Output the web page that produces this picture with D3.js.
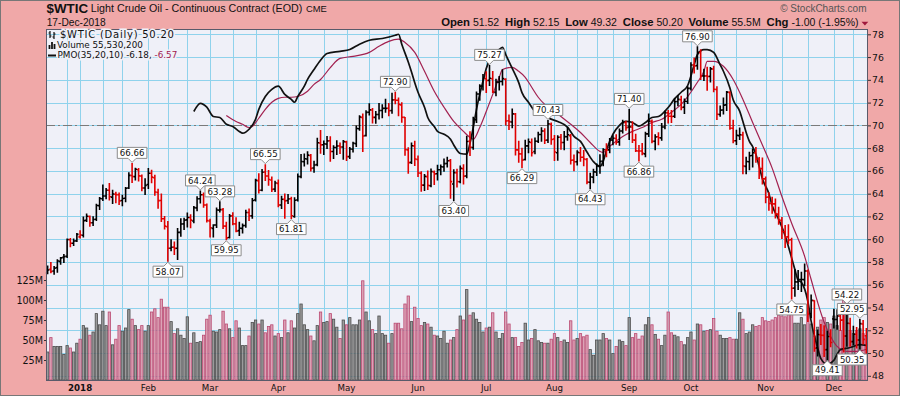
<!DOCTYPE html>
<html>
<head>
<meta charset="utf-8">
<script src="https://cdn.jsdelivr.net/npm/d3@7"></script>
<style>
  body { margin: 0; background: #f0a8a8; }
  svg { display: block; }
  text { font-family: "DejaVu Sans", sans-serif; }
  .hdr { font-family: "Liberation Sans", Arial, sans-serif; white-space: pre; }
</style>
</head>
<body>
<svg id="chart" width="900" height="396"></svg>
<script>
// trading calendar (weekdays minus exchange holidays)
var holidays = ["2017-12-25", "2018-01-01", "2018-01-15", "2018-02-19", "2018-03-30",
  "2018-05-28", "2018-07-04", "2018-09-03", "2018-11-22"];
var firstDay = "2017-12-15";
var lastDay = "2018-12-17";

// daily OHLC, Dec-2017 .. Dec-2018
var opens = [
  57.03,57.35,57.20,57.50,58.05,58.40,58.50,59.95,59.65,59.85,
  60.20,60.35,61.65,62.00,61.45,61.75,62.95,63.55,63.80,64.30,63.70,63.95,63.90,63.40,63.60,64.50,65.60,65.50,66.10,65.55,64.50,
  64.80,65.80,65.40,64.10,63.40,61.80,61.10,59.20,59.30,59.20,60.60,61.35,61.70,61.90,61.60,62.75,63.55,63.90,63.00,
  61.60,60.95,61.25,62.55,62.60,61.15,60.15,62.05,61.35,60.75,60.95,61.20,62.35,62.05,63.45,65.15,64.30,65.90,65.55,65.20,64.40,
  64.90,63.00,63.50,63.40,63.55,62.00,63.45,65.50,66.80,67.05,67.35,66.25,66.55,68.45,68.30,68.35,68.65,67.70,68.05,68.20,68.10,
  68.55,67.25,67.90,68.40,69.70,70.70,69.10,71.15,71.35,70.70,70.95,71.30,71.50,71.50,71.30,72.25,72.20,71.80,70.70,67.85,66.75,68.20,
  67.00,65.80,64.75,65.50,64.70,65.90,65.75,66.10,66.35,66.65,66.90,64.85,65.85,65.05,66.20,65.55,68.60,68.05,70.50,72.75,73.45,
  74.10,73.95,74.10,72.90,73.80,73.85,74.05,70.40,70.30,71.00,67.85,67.50,67.00,68.20,68.50,67.70,68.60,69.20,69.50,68.70,70.10,
  68.80,67.60,68.95,68.50,69.00,69.10,66.95,66.80,67.60,67.20,67.00,65.00,65.45,65.90,66.40,66.85,67.85,67.85,68.70,68.85,68.55,69.50,70.25,
  69.85,69.85,68.70,67.75,67.75,67.50,69.25,70.35,68.60,69.00,68.90,69.85,71.10,70.80,70.80,72.10,72.25,71.60,72.10,
  73.25,75.30,75.25,76.40,74.35,74.35,74.30,74.95,73.15,70.95,71.35,71.80,72.90,69.75,68.65,69.10,69.15,66.40,66.80,67.35,67.60,67.05,66.20,
  65.30,63.70,63.15,63.10,62.20,61.65,60.65,60.20,59.95,55.70,56.25,56.45,56.45,57.20,53.45,54.60,50.45,51.60,51.55,50.30,51.45,
  53.00,52.95,53.25,52.90,51.50,52.60,51.00,51.65,51.15,52.55,51.52
];
var highs = [
  57.65,57.96,57.60,58.20,58.40,58.65,60.01,60.07,60.01,60.51,
  60.74,61.95,62.21,62.04,61.98,63.07,63.67,64.77,64.45,64.89,64.29,64.12,64.05,63.85,64.54,65.83,66.66,66.23,66.20,65.63,65.32,
  66.20,66.06,65.62,64.39,63.96,62.00,61.55,59.95,59.75,60.94,61.80,61.85,62.30,62.15,62.88,63.73,64.24,64.05,63.10,
  61.75,61.28,62.74,63.28,62.70,61.48,62.17,62.33,61.89,61.49,61.34,62.54,62.65,63.57,65.26,65.74,66.13,66.55,66.04,65.47,65.10,
  65.19,63.78,63.98,63.92,63.69,63.64,65.72,67.45,67.49,67.68,67.43,66.85,68.86,69.56,68.63,69.02,68.99,68.21,68.64,68.45,68.66,
  68.60,68.05,68.51,69.94,70.84,71.00,71.28,71.89,71.48,71.22,71.92,71.82,72.30,71.92,72.83,72.90,72.40,71.99,70.70,68.04,68.45,68.60,
  67.31,65.92,65.68,66.00,66.17,66.00,66.50,66.52,67.05,67.21,67.00,66.10,66.15,66.44,66.55,69.05,69.45,70.71,72.93,73.56,74.46,
  74.70,75.27,74.74,74.05,74.29,74.88,74.10,70.91,71.43,71.04,68.60,68.00,68.70,68.80,68.80,68.90,69.40,69.80,69.70,70.43,70.20,
  69.10,69.09,69.20,69.47,69.82,69.20,67.40,67.76,68.06,67.80,67.10,65.80,66.14,66.61,67.41,67.94,68.39,68.84,69.08,69.18,69.69,70.45,70.36,
  71.40,70.31,69.22,68.24,68.41,69.39,71.00,70.48,69.17,69.35,70.17,71.25,71.30,71.30,72.37,72.60,72.55,72.31,73.39,
  75.51,75.91,76.90,76.65,74.92,75.10,75.08,75.20,73.40,71.70,72.40,72.98,72.95,70.45,69.57,69.77,69.40,67.21,67.64,67.93,68.05,67.18,67.13,
  65.46,64.09,63.68,63.54,62.80,61.90,61.20,61.28,60.08,57.34,57.25,57.09,57.83,57.30,55.10,54.60,52.02,52.50,52.40,51.91,52.05,
  53.85,53.80,53.40,53.35,54.22,53.05,52.35,52.25,52.95,52.85,52.15
];
var lows = [
  56.97,57.05,56.92,57.10,57.80,57.95,58.40,59.33,59.45,59.80,
  60.10,60.20,61.55,61.14,61.20,61.65,62.62,63.40,63.55,63.45,63.14,63.20,63.05,62.94,63.30,64.45,64.99,65.21,65.11,64.26,63.92,
  64.45,64.95,63.86,62.71,61.55,60.89,58.07,58.98,58.66,58.21,60.25,60.85,61.08,61.00,61.45,62.49,63.18,62.80,61.51,
  60.19,60.20,61.03,62.40,60.95,59.95,60.10,61.26,60.65,60.33,60.54,61.05,61.65,61.85,63.35,64.06,64.25,65.15,64.74,64.18,64.20,
  62.86,62.69,61.85,63.13,61.81,61.93,63.35,65.40,66.42,66.61,65.99,65.89,66.45,67.55,67.44,67.96,66.85,67.09,67.45,67.53,67.03,
  66.92,67.10,67.66,68.14,69.57,67.71,69.06,70.90,70.20,70.18,70.56,70.66,71.16,70.85,71.06,71.90,70.84,70.27,67.38,65.80,66.65,66.47,
  65.50,64.22,64.27,64.37,64.61,64.80,65.21,65.67,65.97,66.35,63.59,63.40,64.58,64.95,64.86,65.40,67.35,67.90,70.25,72.20,73.10,
  72.88,73.50,72.88,72.60,73.10,73.55,70.05,69.64,69.78,67.40,66.75,66.29,66.95,67.60,67.30,67.50,68.50,68.60,68.40,68.50,68.35,
  66.92,66.94,67.90,67.85,68.70,66.61,66.02,66.52,66.85,66.45,64.87,64.43,64.96,65.60,65.80,66.45,67.24,67.60,68.30,68.35,68.25,69.34,69.58,
  68.75,68.50,67.70,66.86,67.42,67.24,69.03,68.47,67.85,68.30,68.70,69.70,70.20,70.25,70.70,71.73,71.38,71.04,71.91,
  73.10,74.60,74.92,74.03,73.95,73.08,73.81,72.96,70.52,70.80,71.00,71.30,69.65,68.47,68.32,68.75,65.74,65.76,66.10,66.34,66.75,65.33,64.84,
  63.20,62.55,62.28,61.87,61.31,60.07,59.26,59.61,54.75,54.99,55.59,55.41,55.91,52.77,53.10,50.15,49.73,50.76,49.70,49.41,50.55,
  52.20,52.10,52.00,50.08,50.60,50.60,50.70,50.45,50.35,50.80,49.32
];
var closes = [
  57.30,57.16,57.46,58.09,58.36,58.47,59.97,59.64,59.84,60.42,
  60.37,61.63,62.01,61.44,61.73,62.96,63.57,63.80,64.30,63.73,63.97,63.92,63.37,63.57,64.47,65.61,65.51,66.14,65.56,64.50,64.73,
  65.80,65.45,64.15,63.39,61.79,61.15,59.20,59.29,59.19,60.60,61.34,61.68,61.90,61.68,62.77,63.55,63.91,63.01,61.64,
  61.00,61.25,62.57,62.60,61.15,60.12,62.04,61.36,60.71,60.96,61.19,62.34,62.06,63.40,65.17,64.30,65.88,65.55,65.25,64.38,64.94,
  63.01,63.51,63.37,63.54,62.06,63.42,65.51,66.82,67.07,67.39,66.22,66.52,68.47,68.29,68.38,68.64,67.70,68.05,68.19,68.10,68.57,
  67.25,67.93,68.43,69.72,70.73,69.06,71.14,71.36,70.70,70.96,71.31,71.49,71.49,71.28,72.24,72.20,71.84,70.71,67.88,66.73,68.21,67.04,
  65.81,64.75,65.52,64.73,65.95,65.74,66.10,66.36,66.64,66.89,65.06,65.85,65.07,66.22,65.54,68.58,68.08,70.53,72.76,73.45,74.15,
  73.94,74.14,72.94,73.80,73.85,74.11,70.38,70.33,71.01,67.85,67.50,66.95,68.20,68.55,67.60,68.60,69.20,69.50,68.69,70.13,68.76,
  67.66,68.96,68.49,69.01,69.17,66.94,66.81,67.63,67.20,67.04,65.01,65.46,65.91,66.43,66.84,67.86,67.83,68.72,68.87,68.53,69.51,70.25,69.80,
  69.87,68.72,67.77,67.75,67.54,69.25,70.37,68.59,68.99,68.91,69.85,71.12,70.80,70.78,72.08,72.28,71.57,72.12,73.25,
  75.30,75.23,76.41,74.33,74.34,74.29,74.96,73.17,70.97,71.34,71.78,72.92,69.75,68.65,69.12,69.17,66.43,66.82,67.33,67.59,67.04,66.18,65.31,
  63.69,63.14,63.10,62.21,61.67,60.67,60.19,59.93,55.69,56.25,56.46,56.46,57.20,53.43,54.63,50.42,51.63,51.56,50.29,51.45,50.93,
  52.95,53.25,52.89,51.49,52.61,51.00,51.65,51.15,52.58,51.20,50.20
];
// volume, millions
var volumes = [
  35,53,42,42,42,32,43,40,35,46,
  51,68,65,56,60,83,69,86,68,85,44,51,68,61,65,88,76,68,63,68,61,
  68,85,89,78,101,91,91,73,58,64,56,52,79,46,59,47,48,56,76,
  81,61,60,63,86,70,64,53,74,65,43,43,55,72,75,70,75,59,67,69,55,
  58,53,75,59,74,65,83,95,69,63,55,49,68,85,72,73,83,76,66,52,75,
  69,78,69,69,75,124,85,74,63,58,80,58,56,46,58,71,71,64,95,105,73,91,
  77,68,72,70,66,56,55,52,61,46,50,53,63,80,75,113,81,84,76,72,60,
  65,66,84,60,52,58,85,70,53,53,42,47,71,50,52,63,49,47,46,46,51,
  58,53,48,50,47,74,50,52,58,54,56,38,31,50,50,58,52,50,33,42,50,48,43,
  78,53,58,51,55,69,78,69,57,51,43,56,85,59,56,54,48,44,53,
  60,50,70,69,61,62,63,77,61,56,52,52,53,51,51,84,76,58,60,69,67,68,78,
  74,73,75,78,81,80,79,85,88,71,71,78,69,85,70,55,66,75,78,72,70,
  80,68,62,100,90,62,58,62,64,58,55.5
];

// PMO(35,20,10) and its signal, read at sampled bars (bar number from first bar)
var pmoBars = [45,47,49,51,53,55,57,59,60,62,64,65,67,69,71,73,75,76,77,79,80,82,84,86,90,93,96,99,103,107,108,109,111,112,113,114,116,117,119,120,122,124,125,127,129,130,131,132,134,135,137,139,140,141,143,145,146,148,150,151,153,154,157,160,162,164,166,168,170,171,172,174,176,178,180,182,184,186,188,190,191,193,195,197,199,200,202,203,205,207,208,210,211,213,214,215,216,217,218,219,220,222,223,225,227,228,230,231,232,234,235,237,238,240,242,243,244,247,248,250,252];
var pmoValues = [0.39,0.62,0.51,0.25,0.22,0.03,-0.03,-0.17,-0.22,-0.11,0.17,0.45,0.81,1.01,1.10,0.87,0.73,0.65,0.81,1.10,1.29,1.57,1.83,2.02,2.08,2.13,2.28,2.39,2.44,2.53,2.56,2.28,1.78,1.50,1.20,0.93,0.51,0.22,-0.03,-0.17,-0.25,-0.39,-0.55,-0.79,-0.81,-0.50,-0.06,0.45,1.24,1.60,1.99,2.13,2.19,1.99,1.60,1.20,0.92,0.65,0.39,0.31,0.31,0.22,0.11,-0.05,-0.31,-0.45,-0.75,-1.02,-1.15,-1.01,-0.70,-0.25,0.00,0.11,0.08,-0.02,0.08,0.22,0.25,0.40,0.50,0.75,0.93,1.12,1.70,1.99,2.13,2.13,2.05,1.70,1.52,1.05,0.72,0.40,0.11,-0.20,-0.45,-0.60,-0.81,-1.15,-1.50,-1.92,-2.25,-2.64,-3.10,-3.40,-4.05,-4.35,-4.41,-4.95,-5.50,-6.25,-6.55,-6.71,-6.60,-6.43,-6.30,-6.24,-6.21,-6.16,-6.18];
var signalBars = [55,58,60,62,63,65,67,69,71,73,75,77,80,82,84,87,90,94,99,102,105,108,110,113,116,119,122,125,128,130,131,133,135,137,139,140,143,145,147,149,151,153,155,158,161,164,167,170,171,173,177,180,183,186,189,192,195,197,200,202,203,205,208,211,214,217,220,223,226,229,233,235,237,239,241,243,246,249,252];
var signalValues = [0.28,0.11,0.03,-0.06,-0.03,0.20,0.45,0.65,0.76,0.79,0.79,0.81,0.96,1.15,1.29,1.62,1.88,1.94,2.05,2.22,2.36,2.42,2.33,2.05,1.52,0.96,0.51,0.11,-0.17,-0.34,-0.39,-0.06,0.39,0.87,1.35,1.57,1.63,1.52,1.35,1.07,0.79,0.59,0.45,0.25,0.03,-0.20,-0.48,-0.73,-0.76,-0.59,-0.31,-0.17,-0.06,0.08,0.17,0.37,0.59,0.81,1.21,1.52,1.80,1.80,1.66,1.29,0.73,0.08,-0.55,-1.20,-2.00,-2.75,-3.68,-4.33,-4.97,-5.53,-5.93,-6.21,-6.35,-6.35,-6.29];

// annotated swing highs / lows
var markBars = [26,37,47,53,55,67,75,107,125,136,146,154,167,179,182,200,229,240,246,250,250];
var markSides = ["hi","lo","hi","hi","lo","hi","lo","hi","lo","hi","lo","hi","lo","hi","lo","hi","lo","lo","hi","hi","lo"];

// axes
var priceTicks = d3.range(48, 79, 2);
var volumeTicks = [25, 50, 75, 100, 125];
var monthDates = ["2018-01-02","2018-02-01","2018-03-01","2018-04-02","2018-05-01","2018-06-01","2018-07-02","2018-08-01","2018-09-04","2018-10-01","2018-11-01","2018-12-03"];
var monthNames = ["2018","Feb","Mar","Apr","May","Jun","Jul","Aug","Sep","Oct","Nov","Dec"];
var gridDates = ["2017-12-26","2018-01-02","2018-01-11","2018-01-22","2018-02-01","2018-02-09","2018-02-20","2018-03-01","2018-03-12","2018-03-21","2018-04-02","2018-04-10","2018-04-20","2018-05-01","2018-05-10","2018-05-18","2018-06-01","2018-06-11","2018-06-20","2018-07-02","2018-07-11","2018-07-20","2018-08-01","2018-08-10","2018-08-20","2018-08-27","2018-09-04","2018-09-12","2018-09-20","2018-10-01","2018-10-10","2018-10-19","2018-11-01","2018-11-08","2018-11-20","2018-12-03","2018-12-11"];

// header text
var hdrLabels = ["Open", "High", "Low", "Close", "Volume", "Chg"];
var hdrValues = ["51.52", "52.15", "49.32", "50.20", "55.5M", "-1.00 (-1.95%)"];

// ---- build dates ----
var parseDay = d3.utcParse("%Y-%m-%d");
var fmtDay = d3.utcFormat("%Y-%m-%d");
var dates = d3.utcDays(parseDay(firstDay), d3.utcDay.offset(parseDay(lastDay), 1))
  .filter(d => d.getUTCDay() !== 0 && d.getUTCDay() !== 6)
  .map(fmtDay)
  .filter(s => holidays.indexOf(s) < 0);

var bars = dates.map((d, i) => ({
  date: d, o: opens[i], h: highs[i], l: lows[i], c: closes[i], v: volumes[i],
  down: i > 0 && closes[i] < closes[i - 1]
}));

// ---- layout ----
var plot = {left: 46, top: 29, right: 868, bottom: 380};
var svg = d3.select("#chart");

var x = d3.scaleBand().domain(dates).range([plot.left, plot.right]);
var xc = d => x(d) + x.bandwidth() / 2;
var y = d3.scaleLinear().domain([48, 78]).range([375.8, 34.3]);
var yVol = d3.scaleLinear().domain([0, 125]).range([plot.bottom, 280]);
var yPmo = d3.scaleLinear().domain([0, 1]).range([y(70), y(70) - 35.6]);

var bgPlot = "#eff0f8";
var gridColor = "#8fd2ec";

// outer frame
svg.append("rect")
  .attr("x", 0.5).attr("y", 0.5).attr("width", 899).attr("height", 395)
  .attr("fill", "#f0a8a8").attr("stroke", "#777");

svg.append("rect")
  .attr("x", plot.left).attr("y", plot.top)
  .attr("width", plot.right - plot.left).attr("height", plot.bottom - plot.top)
  .attr("fill", bgPlot);

// grid
var grid = svg.append("g").attr("stroke", gridColor).attr("stroke-width", 1);
grid.selectAll(".hg").data(priceTicks).enter().append("line")
  .attr("x1", plot.left).attr("x2", plot.right)
  .attr("y1", d => Math.round(y(d)) + 0.5).attr("y2", d => Math.round(y(d)) + 0.5);
grid.selectAll(".vg").data(gridDates).enter().append("line")
  .attr("y1", plot.top).attr("y2", plot.bottom)
  .attr("x1", d => Math.round(xc(d)) + 0.5).attr("x2", d => Math.round(xc(d)) + 0.5);

// volume bars
svg.append("g").selectAll("rect").data(bars).enter().append("rect")
  .attr("x", d => x(d.date) + 0.45)
  .attr("width", x.bandwidth() - 0.9)
  .attr("y", d => yVol(d.v))
  .attr("height", d => plot.bottom - yVol(d.v))
  .attr("fill", d => d.down ? "#d895aa" : "#8c8c8c")
  .attr("fill-opacity", 0.85)
  .attr("stroke", d => d.down ? "#bb4a72" : "#4d4d4d")
  .attr("stroke-width", 0.8);

// PMO zero line
svg.append("line")
  .attr("x1", plot.left).attr("x2", plot.right)
  .attr("y1", Math.round(y(70)) + 0.5).attr("y2", Math.round(y(70)) + 0.5)
  .attr("stroke", "#7a7a7a").attr("stroke-dasharray", "9,3,2,3");

// PMO + signal
var pmoLine = d3.line()
  .x(d => xc(dates[d[0]]))
  .y(d => yPmo(d[1]))
  .curve(d3.curveMonotoneX);

svg.append("path")
  .attr("d", pmoLine(signalBars.map((b, i) => [b, signalValues[i]])))
  .attr("fill", "none").attr("stroke", "#a22150").attr("stroke-width", 1.2);
svg.append("path")
  .attr("d", pmoLine(pmoBars.map((b, i) => [b, pmoValues[i]])))
  .attr("fill", "none").attr("stroke", "#111").attr("stroke-width", 1.7);

// OHLC bars
var tick = 1.7;
svg.append("g").selectAll("path").data(bars).enter().append("path")
  .attr("d", d => {
    var cx = xc(d.date);
    return "M" + cx + "," + (y(d.h) - 0.5) + "V" + (y(d.l) + 0.5) +
      "M" + (cx - tick) + "," + y(d.o) + "H" + cx +
      "M" + cx + "," + y(d.c) + "H" + (cx + tick);
  })
  .attr("fill", "none")
  .attr("stroke", d => d.down ? "#e00000" : "#000")
  .attr("stroke-width", 1.6);

// swing labels
var marks = svg.append("g");
markBars.forEach((b, k) => {
  var d = bars[b];
  var hi = markSides[k] === "hi";
  var val = hi ? d.h : d.l;
  var cx = xc(d.date);
  var tip = hi ? y(val) - 1 : y(val) + 1;
  var g = marks.append("g");
  var t = g.append("text")
    .attr("font-size", 8.6)
    .attr("text-anchor", "middle")
    .text(val.toFixed(2));
  var w = t.node().getComputedTextLength() + 5;
  var h = 11;
  var L = cx - w / 2;
  if (L + w > plot.right - 1) L = plot.right - 1 - w;
  var R = L + w;
  var T, B, p;
  if (hi) {
    B = tip - 4; T = B - h;
    p = "M" + L + "," + T + "H" + R + "V" + B + "H" + (cx + 4) + "L" + cx + "," + tip +
      "L" + (cx - 4) + "," + B + "H" + L + "Z";
  } else {
    T = tip + 4; B = T + h;
    p = "M" + L + "," + T + "H" + (cx - 4) + "L" + cx + "," + tip + "L" + (cx + 4) + "," + T +
      "H" + R + "V" + B + "H" + L + "Z";
  }
  g.insert("path", "text").attr("d", p)
    .attr("fill", "#fff").attr("stroke", "#8c8c8c").attr("stroke-width", 1);
  t.attr("x", (L + R) / 2).attr("y", B - 2.3).attr("fill", "#111");
});

// plot border
svg.append("rect")
  .attr("x", plot.left + 0.5).attr("y", plot.top + 0.5)
  .attr("width", plot.right - plot.left - 1).attr("height", plot.bottom - plot.top)
  .attr("fill", "none").attr("stroke", "#5a5a6a");

// axes
var rightAxis = svg.append("g")
  .attr("transform", "translate(" + plot.right + ",0)")
  .call(d3.axisRight(y).tickValues(priceTicks).tickSize(3).tickPadding(1).tickFormat(d3.format("d")));
var leftAxis = svg.append("g")
  .attr("transform", "translate(" + plot.left + ",0)")
  .call(d3.axisLeft(yVol).tickValues(volumeTicks).tickSize(2).tickPadding(1).tickFormat(d => d + "M"));
var bottomAxis = svg.append("g")
  .attr("transform", "translate(0," + plot.bottom + ")")
  .call(d3.axisBottom(x).tickValues(monthDates).tickSize(0).tickPadding(4.6)
    .tickFormat(d => monthNames[monthDates.indexOf(d)]));
[rightAxis, leftAxis, bottomAxis].forEach(a => {
  a.select(".domain").remove();
  a.selectAll("text").attr("font-family", "DejaVu Sans").attr("fill", "#111");
  a.selectAll("line").attr("stroke", "#333");
});
rightAxis.selectAll("text").attr("font-size", 9.3);
leftAxis.selectAll("text").attr("font-size", 9.6);
bottomAxis.selectAll("text").attr("font-size", 8.7)
  .attr("font-weight", d => d === monthDates[0] ? "bold" : "normal");

// legend inside plot
var leg = svg.append("g")
  .attr("stroke", bgPlot).attr("stroke-width", 3).attr("paint-order", "stroke")
  .attr("fill", "#111");
leg.append("text").attr("x", 60).attr("y", 37.8).attr("font-size", 10)
  .attr("letter-spacing", 0.75).text("$WTIC (Daily) 50.20");
leg.append("text").attr("x", 57).attr("y", 48.3).attr("font-size", 8.8)
  .text("Volume 55,530,200");
var pm = leg.append("text").attr("x", 57.5).attr("y", 58.4).attr("font-size", 8.8);
pm.append("tspan").text("PMO(35,20,10) -6.18, ");
pm.append("tspan").attr("fill", "#a22150").text("-6.57");
// legend icons
svg.append("path")
  .attr("d", "M50,31V38M48.5,33H50M50,36H51.5M54,32V39M52.5,37H54M54,34H55.5")
  .attr("stroke", "#111").attr("stroke-width", 1.2).attr("fill", "none");
svg.append("path")
  .attr("d", "M49.5,49V45M52,49V42M54.5,49V44")
  .attr("stroke", "#111").attr("stroke-width", 1.8).attr("fill", "none");
svg.append("line").attr("x1", 48).attr("x2", 56).attr("y1", 55.5).attr("y2", 55.5)
  .attr("stroke", "#111").attr("stroke-width", 2);

// header
svg.append("text").attr("class", "hdr").attr("x", 46.5).attr("y", 12.8)
  .attr("font-size", 13.4).attr("font-weight", "bold").attr("fill", "#111").text("$WTIC");
svg.append("text").attr("class", "hdr").attr("x", 90.8).attr("y", 12.4)
  .attr("font-size", 10.7).attr("fill", "#111").text("Light Crude Oil - Continuous Contract (EOD)");
svg.append("text").attr("class", "hdr").attr("x", 306).attr("y", 12.4)
  .attr("font-size", 9.4).attr("fill", "#111").text("CME");
svg.append("text").attr("class", "hdr").attr("x", 46.7).attr("y", 25.6)
  .attr("font-size", 10.2).attr("fill", "#111").text("17-Dec-2018");
svg.append("text").attr("class", "hdr").attr("x", 866.5).attr("y", 11.6)
  .attr("font-size", 10).attr("text-anchor", "end").attr("fill", "#555").text("\u00a9 StockCharts.com");

var stats = svg.append("text").attr("class", "hdr").attr("x", 858.5).attr("y", 25.7)
  .attr("text-anchor", "end").attr("fill", "#111");
hdrLabels.forEach((lab, i) => {
  stats.append("tspan").attr("font-weight", "bold").attr("font-size", 11.3).text(lab);
  stats.append("tspan").attr("font-size", 10.5).text(" " + hdrValues[i] + (i < hdrLabels.length - 1 ? "  " : ""));
});
svg.append("path").attr("d", "M861.5,21.8H868.3L864.9,25.4Z").attr("fill", "#a0183c");
</script>
</body>
</html>
